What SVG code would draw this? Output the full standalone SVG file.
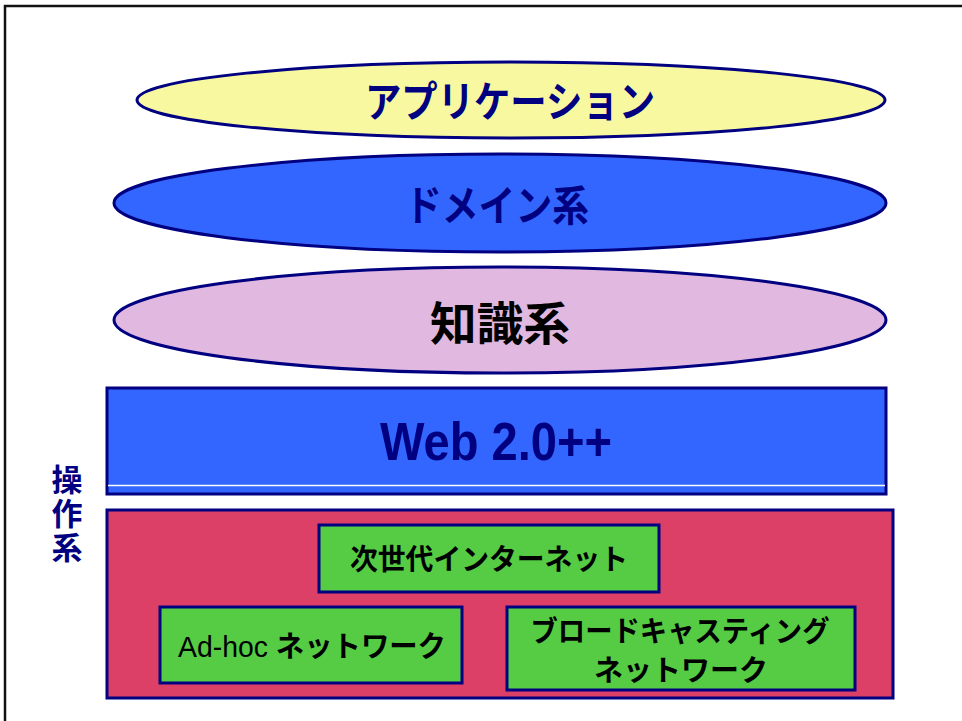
<svg xmlns="http://www.w3.org/2000/svg" width="962" height="721" viewBox="0 0 962 721">
<style>
.jp{font-family:"Liberation Sans","Noto Sans CJK JP",sans-serif;font-weight:bold;text-anchor:middle}
.navy{fill:#000080}
.blk{fill:#000000}
.lay{stroke:#000080;stroke-width:3}
.box{fill:#55CC44;stroke:#000080;stroke-width:3}
</style>
<rect x="5" y="6" width="980" height="740" fill="#ffffff" stroke="#111111" stroke-width="2.5"/>
<g id="application">
<ellipse cx="511" cy="100" rx="374" ry="38" fill="#F8F8A0" class="lay"/>
<text x="510" y="117" class="jp navy" font-size="42" textLength="290" lengthAdjust="spacingAndGlyphs">アプリケーション</text>
</g>
<g id="domain">
<ellipse cx="500" cy="203" rx="386" ry="49" fill="#3366FF" class="lay"/>
<text x="497" y="221" class="jp navy" font-size="42" textLength="184" lengthAdjust="spacingAndGlyphs">ドメイン系</text>
</g>
<g id="knowledge">
<ellipse cx="500" cy="320" rx="386" ry="53" fill="#E0B8E0" class="lay"/>
<text x="500" y="340" class="jp blk" font-size="46" textLength="140" lengthAdjust="spacingAndGlyphs">知識系</text>
</g>
<g id="web">
<rect x="107" y="388" width="779" height="106" fill="#3366FF" class="lay"/>
<line x1="108" y1="485.5" x2="885" y2="485.5" stroke="#ffffff" stroke-width="1.5"/>
<text x="496" y="460" class="jp navy" font-size="54" textLength="232" lengthAdjust="spacingAndGlyphs">Web 2.0++</text>
</g>
<g id="ops-label">
<text class="jp navy" font-size="31" x="67"><tspan x="67" y="491">操</tspan><tspan x="67" y="525">作</tspan><tspan x="67" y="559">系</tspan></text>
</g>
<g id="infra">
<rect x="107" y="510" width="786" height="188" fill="#DD4066" class="lay"/>
</g>
<g id="next-internet">
<rect x="319" y="525" width="340" height="67" class="box"/>
<text x="489" y="570" class="jp blk" font-size="29" textLength="278" lengthAdjust="spacingAndGlyphs">次世代インターネット</text>
</g>
<g id="adhoc">
<rect x="160" y="607" width="302" height="76" class="box"/>
<text x="312" y="657" class="jp blk" font-size="29" textLength="268" lengthAdjust="spacingAndGlyphs"><tspan font-weight="normal">Ad-hoc</tspan> ネットワーク</text>
</g>
<g id="broadcast">
<rect x="507" y="607" width="348" height="83" class="box"/>
<text x="680" y="642" class="jp blk" font-size="29" textLength="299" lengthAdjust="spacingAndGlyphs">ブロードキャスティング</text>
<text x="681" y="681" class="jp blk" font-size="29">ネットワーク</text>
</g>
<g id="connectors"></g>
</svg>
